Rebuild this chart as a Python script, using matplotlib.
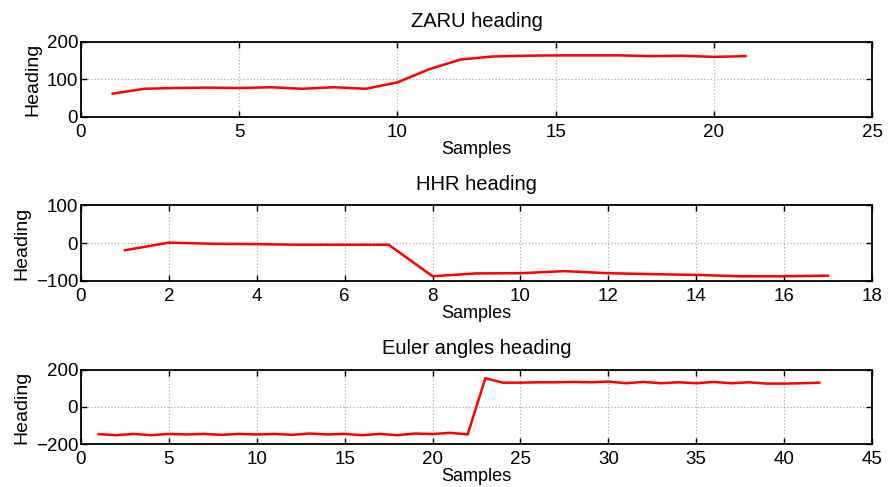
import numpy as np
import matplotlib
matplotlib.use("Agg")
import matplotlib.pyplot as plt

plt.rcParams['font.family'] = ['Liberation Sans', 'DejaVu Sans']

# ZARU heading
zaru = [62, 75, 77, 78, 77, 79, 75, 79, 75, 92, 127, 153, 161, 163, 164,
        164, 164, 162, 163, 160, 162]
# HHR heading
hhr = [-19, 1, -2, -3, -4.5, -4.5, -4.5, -87.5, -80, -79.5, -74, -79.5,
       -82, -84, -87.5, -87.5, -86]
# Euler angles heading
euler = [-146, -152, -145, -152, -145, -148, -145, -150, -145, -148, -145,
         -150, -143, -148, -145, -152, -145, -152, -143, -146, -139, -148,
         154, 130, 130, 132, 132, 134, 132, 136, 127, 134, 127, 132, 127,
         134, 127, 132, 125, 125, 127, 130]

titles = ["ZARU heading", "HHR heading", "Euler angles heading"]
series = [zaru, hhr, euler]
xlims = [(0, 25), (0, 18), (0, 45)]
xticks = [np.arange(0, 26, 5), np.arange(0, 19, 2), np.arange(0, 46, 5)]
ylims = [(0, 200), (-100, 100), (-200, 200)]
yticks = [[0, 100, 200], [-100, 0, 100], [-200, 0, 200]]

# axes rectangles (left, bottom, width, height)
rects = [(0.0912, 0.760, 0.8908, 0.154),
         (0.0912, 0.423, 0.8908, 0.156),
         (0.0912, 0.088, 0.8908, 0.153)]

fig = plt.figure(figsize=(8.88, 4.87), dpi=100)
for k in range(3):
	ax = fig.add_axes(rects[k])
	y = series[k]
	x = np.arange(1, len(y) + 1)
	ax.plot(x, y, color='red', lw=1.8)
	ax.set_xlim(*xlims[k])
	ax.set_ylim(*ylims[k])
	ax.set_xticks(xticks[k])
	ax.set_yticks(yticks[k])
	ax.set_yticklabels([str(v).replace('-', '\u2212') for v in yticks[k]])
	ax.grid(True, linestyle=':', color='#b0b0b0', lw=0.9)
	ax.tick_params(direction='in', length=4, width=1, labelsize=13.5,
	               top=True, right=True)
	ax.tick_params(axis='x', pad=5)
	ax.tick_params(axis='y', pad=2)
	for s in ax.spines.values():
		s.set_linewidth(1.3)
	ax.set_title(titles[k], fontsize=14.5, pad=11)
	ax.set_xlabel("Samples", fontsize=13, labelpad=0)
	ax.set_ylabel("Heading", fontsize=14, labelpad=4)

fig.savefig("out.png", dpi=100)
